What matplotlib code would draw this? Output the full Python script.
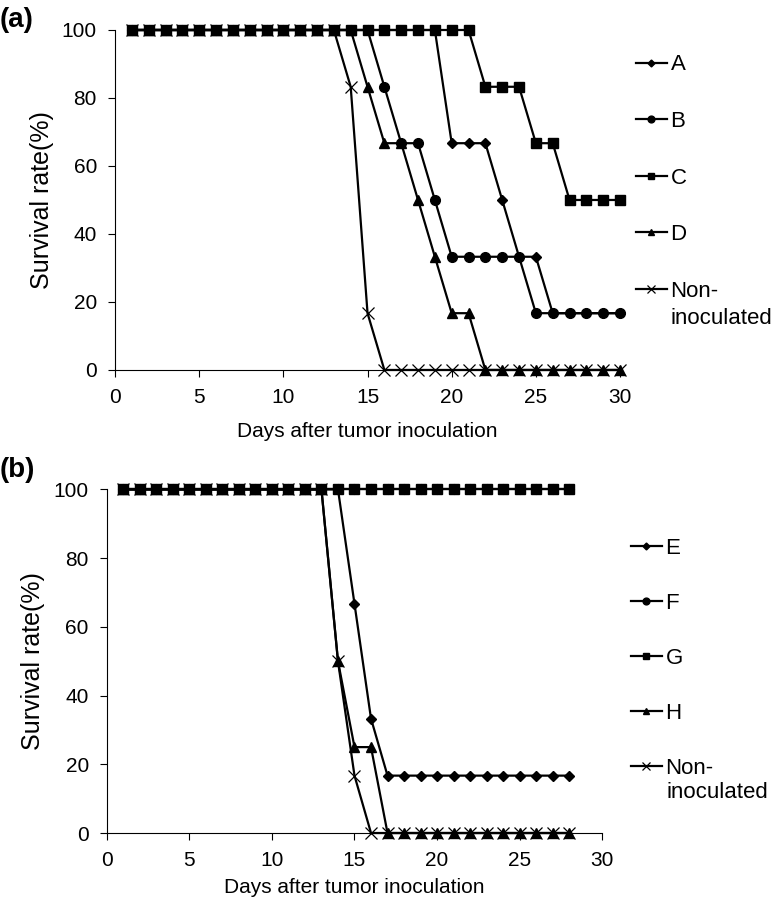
import matplotlib
matplotlib.use("Agg")
import matplotlib.pyplot as plt

plt.rcParams['font.family'] = ['Liberation Sans', 'DejaVu Sans']

# panel (a)
days_a = list(range(1, 31))
surv_A = [100]*19 + [66.7, 66.7, 66.7, 50, 33.3, 33.3] + [16.7]*5
surv_B = [100]*15 + [83.3, 66.7, 66.7, 50] + [33.3]*5 + [16.7]*6
surv_C = [100]*21 + [83.3, 83.3, 83.3, 66.7, 66.7] + [50]*4
surv_D = [100]*14 + [83.3, 66.7, 66.7, 50, 33.3, 16.7, 16.7] + [0]*9
surv_N_a = [100]*13 + [83.3, 16.7] + [0]*15

# panel (b)
days_b = list(range(1, 29))
surv_E = [100]*14 + [66.7, 33.3] + [16.7]*12
surv_F = [100]*28
surv_G = [100]*28
surv_H = [100]*13 + [50, 25, 25] + [0]*12
surv_N_b = [100]*13 + [50, 16.7] + [0]*13

labels_a = ['A', 'B', 'C', 'D', 'Non-']
labels_b = ['E', 'F', 'G', 'H', 'Non-']

styles = [
    dict(marker='D', ms=5),
    dict(marker='o', ms=7),
    dict(marker='s', ms=7),
    dict(marker='^', ms=7),
    dict(marker='x', ms=8, mew=0.9),
]


def draw(ax, days, series, labels, anchor, spacing, xpad):
    for ys, lab, st in zip(series, labels, styles):
        ax.plot(days, ys, color='black', lw=1.6, label=lab, clip_on=False, **st)
    ax.set_xlim(0, 30)
    ax.set_ylim(0, 100)
    ax.set_xticks(range(0, 31, 5))
    ax.set_yticks(range(0, 101, 20))
    ax.spines['top'].set_visible(False)
    ax.spines['right'].set_visible(False)
    ax.tick_params(direction='out', length=5, labelsize=15, pad=8)
    ax.set_xlabel('Days after tumor inoculation', fontsize=15, labelpad=xpad)
    ax.set_ylabel('Survival rate(%)', fontsize=18, labelpad=6)
    ax.legend(loc='upper left', bbox_to_anchor=anchor, frameon=False,
              fontsize=16, labelspacing=spacing, handlelength=1.4,
              handletextpad=0.17, markerscale=0.7, borderaxespad=0.3)


fig = plt.figure(figsize=(7.74, 9.09), dpi=100)
ax1 = fig.add_axes([0.1486, 0.593, 0.6525, 0.374])
ax2 = fig.add_axes([0.138, 0.0836, 0.64, 0.378])

draw(ax1, days_a, [surv_A, surv_B, surv_C, surv_D, surv_N_a], labels_a,
     (1.0, 0.974), 1.6, 11)
draw(ax2, days_b, [surv_E, surv_F, surv_G, surv_H, surv_N_b], labels_b,
     (1.026, 0.905), 1.53, 6)

# second line of the "Non-inoculated" legend entries
fig.text(671 / 774, 1 - 318 / 909, 'inoculated', fontsize=16, va='center')
fig.text(666 / 774, 1 - 793 / 909, 'inoculated', fontsize=16, va='center')

fig.text(0.0, 0.978, '(a)', fontsize=20, fontweight='bold', va='center')
fig.text(0.0, 0.483, '(b)', fontsize=20, fontweight='bold', va='center')

fig.savefig('out.png', dpi=100)
